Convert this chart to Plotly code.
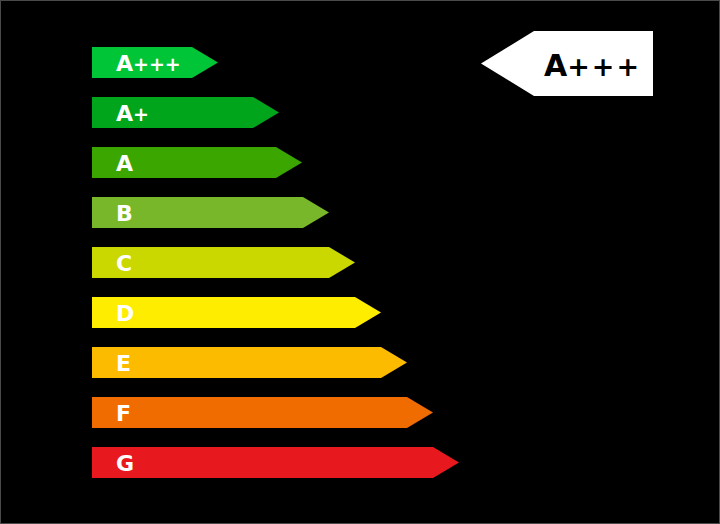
import plotly.graph_objects as go

categories = ["A+++", "A+", "A", "B", "C", "D", "E", "F", "G"]
bar_lengths = [100, 161, 184, 211, 237, 263, 289, 315, 341]
colors = ["#00c537", "#00a51c", "#3ca600", "#78b72a", "#cbd800",
          "#ffed00", "#fdbb00", "#f06b00", "#e8191e"]
current_rating = "A+++"

X0 = 92
TIP = 26
HALF = 0.31

fig = go.Figure()

for i, (cat, L, col) in enumerate(zip(categories, bar_lengths, colors)):
    xs = [X0, X0 + L, X0 + L + TIP, X0 + L, X0, X0]
    ys = [i - HALF, i - HALF, i, i + HALF, i + HALF, i - HALF]
    fig.add_trace(go.Scatter(x=xs, y=ys, mode="lines", fill="toself",
                             fillcolor=col, line=dict(width=0, color=col),
                             hoverinfo="skip", showlegend=False))
    letter = cat[0]
    plus = cat[1:]
    txt = letter + (f"<span style='font-size:19px'>{plus}</span>" if plus else "")
    fig.add_annotation(x=114, y=i + 0.02, text=f"<b>{txt}</b>", showarrow=False,
                       xanchor="left", yanchor="middle",
                       font=dict(family="DejaVu Sans", size=22, color="white"))

# indicator
ri = categories.index(current_rating) + 0.02
IH = 0.65
ix = [653, 534, 481, 534, 653, 653]
iy = [ri - IH, ri - IH, ri, ri + IH, ri + IH, ri - IH]
fig.add_trace(go.Scatter(x=ix, y=iy, mode="lines", fill="toself",
                         fillcolor="white", line=dict(width=0, color="white"),
                         hoverinfo="skip", showlegend=False))
fig.add_annotation(x=542, y=ri + 0.03,
                   text=f"<b>{current_rating[0]}<span style='font-size:27px;letter-spacing:2px'>{current_rating[1:]}</span></b>",
                   showarrow=False, xanchor="left", yanchor="middle",
                   font=dict(family="DejaVu Sans", size=30, color="black"))

fig.add_shape(type="rect", xref="paper", yref="paper", x0=0, y0=0, x1=1, y1=1,
              line=dict(color="#4a4a4a", width=2), fillcolor="rgba(0,0,0,0)")

fig.update_layout(
    width=720, height=524,
    margin=dict(l=0, r=0, t=0, b=0),
    paper_bgcolor="black", plot_bgcolor="black",
    xaxis=dict(range=[0, 720], visible=False, fixedrange=True),
    yaxis=dict(range=[(524 - 62.5) / 50, -62.5 / 50], visible=False, fixedrange=True),
    showlegend=False,
)

fig.write_html("out.html", config={"displayModeBar": False},
               post_script="document.body.style.margin='0';document.body.style.background='black';")
